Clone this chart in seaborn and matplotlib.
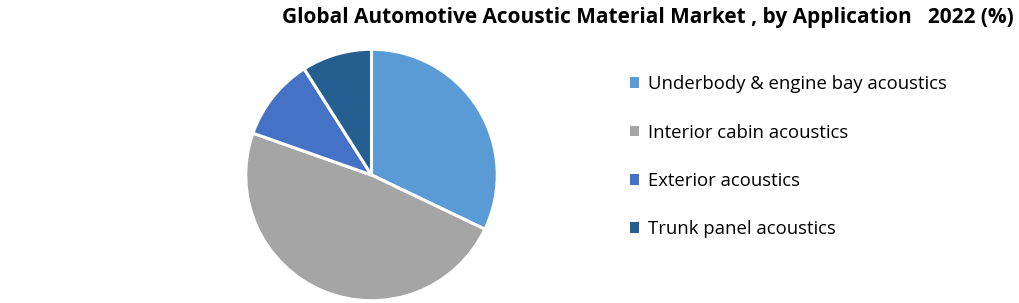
import matplotlib
matplotlib.use("Agg")
import matplotlib.pyplot as plt
import seaborn as sns

categories = ["Underbody & engine bay acoustics", "Interior cabin acoustics",
              "Exterior acoustics", "Trunk panel acoustics"]
shares = [32.1, 48.3, 10.6, 9.0]
colors = ["#5B9BD5", "#A5A5A5", "#4472C4", "#255E91"]
title = "Global Automotive Acoustic Material Market , by Application   2022 (%)"

sns.set_theme(style="white")
plt.rcParams['font.family'] = ['Open Sans', 'DejaVu Sans']

W, H = 1020, 303
fig = plt.figure(figsize=(W / 100, H / 100), dpi=100)
fig.patch.set_facecolor("white")

cx, cy, r = 371.5, 128, 127
ax = fig.add_axes([(cx - r) / W, (cy - r) / H, 2 * r / W, 2 * r / H])
wedges, _ = ax.pie(shares, colors=sns.color_palette(colors), startangle=90,
                   counterclock=False, radius=1.0,
                   wedgeprops=dict(edgecolor="white", linewidth=2.2))
ax.set_xlim(-1.01, 1.01)
ax.set_ylim(-1.01, 1.01)
ax.set_aspect("equal")
ax.axis("off")

fig.text(647.5 / W, 1 - 18 / H, title, ha="center", va="center",
         fontsize=15.0, fontweight="bold", color="black")

leg = fig.legend(wedges, categories, loc="upper left",
                 bbox_to_anchor=(621 / W, 1 - 66 / H), frameon=False,
                 fontsize=13.3, handlelength=0.5, handleheight=0.5,
                 handletextpad=0.45, labelspacing=1.64, borderpad=0,
                 labelcolor="black")
for h in leg.legend_handles:
    h.set_edgecolor("none")

fig.savefig("out.png", dpi=100, facecolor="white")
